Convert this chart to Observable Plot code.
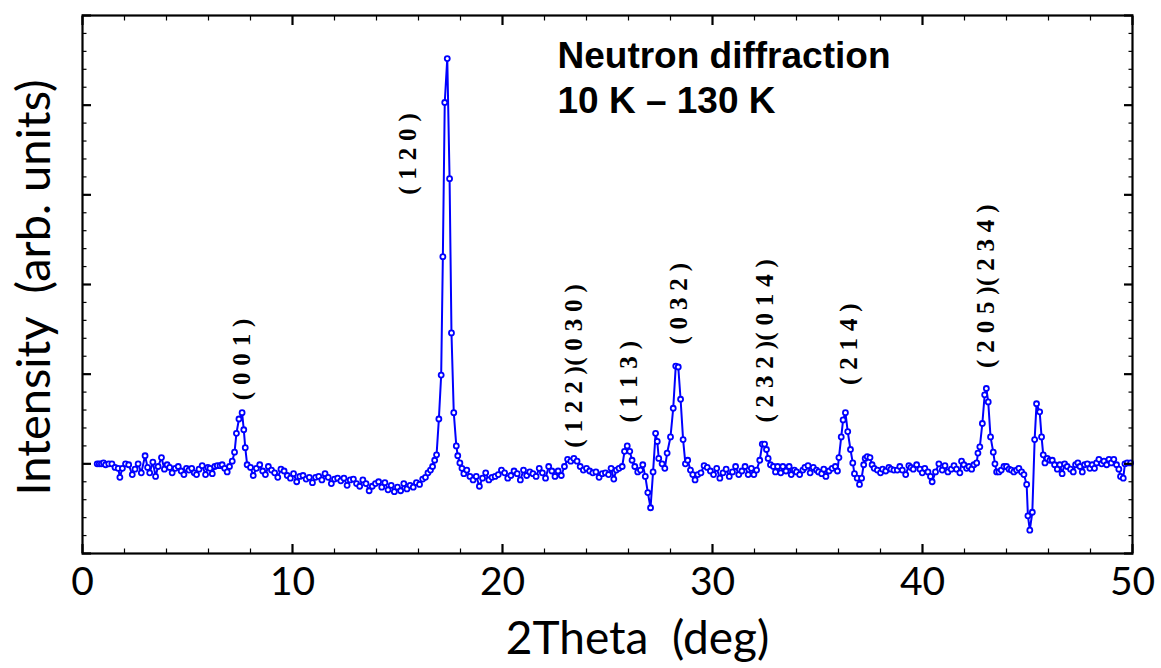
<!DOCTYPE html>
<html>
<head>
<meta charset="utf-8">
<script src="https://cdn.jsdelivr.net/npm/d3@7"></script>
<script src="https://cdn.jsdelivr.net/npm/@observablehq/plot@0.6"></script>
<style>
  html, body { margin: 0; padding: 0; background: #fff; }
</style>
</head>
<body>
<div id="chart"></div>
<script>
// 2Theta (deg) of each measured point
const twoTheta = [
  0.70,0.80,0.90,1.00,1.10,1.25,1.40,1.55,1.70,1.78,1.90,2.05,2.20,2.37,2.50,2.65,2.80,2.98,3.10,3.20,
  3.35,3.48,3.60,3.76,3.90,4.03,4.15,4.27,4.42,4.56,4.70,4.83,4.95,5.07,5.20,5.32,5.43,5.55,5.70,5.86,
  5.97,6.07,6.18,6.30,6.42,6.55,6.65,6.77,6.89,7.00,7.13,7.24,7.33,7.45,7.60,7.68,7.75,7.84,8.00,8.13,
  8.28,8.44,8.58,8.71,8.85,9.00,9.15,9.30,9.45,9.60,9.75,9.90,10.05,10.20,10.35,10.50,10.65,10.80,10.95,11.10,
  11.25,11.40,11.55,11.70,11.85,12.00,12.15,12.30,12.45,12.60,12.75,12.90,13.05,13.20,13.35,13.50,13.65,13.80,13.95,14.10,
  14.25,14.40,14.55,14.70,14.85,15.00,15.15,15.30,15.45,15.60,15.75,15.90,16.05,16.20,16.33,16.45,16.57,16.67,16.77,16.86,
  16.97,17.08,17.16,17.25,17.37,17.48,17.57,17.68,17.80,17.87,17.97,18.07,18.16,18.30,18.45,18.60,18.75,18.90,19.05,19.20,
  19.35,19.50,19.65,19.80,19.95,20.10,20.25,20.40,20.55,20.70,20.85,21.00,21.15,21.30,21.45,21.60,21.75,21.90,22.05,22.20,
  22.35,22.50,22.65,22.80,22.95,23.10,23.25,23.40,23.55,23.70,23.85,24.00,24.15,24.30,24.45,24.60,24.75,24.90,25.05,25.17,
  25.30,25.42,25.55,25.70,25.81,25.94,26.06,26.17,26.30,26.44,26.57,26.68,26.80,26.92,27.05,27.17,27.29,27.37,27.44,27.60,
  27.73,27.84,28.00,28.13,28.25,28.37,28.48,28.60,28.71,28.82,28.95,29.06,29.17,29.30,29.45,29.60,29.75,29.90,30.05,30.20,
  30.35,30.50,30.65,30.80,30.95,31.10,31.25,31.40,31.55,31.70,31.85,31.97,32.10,32.25,32.37,32.48,32.57,32.65,32.76,32.90,
  33.00,33.10,33.25,33.35,33.50,33.65,33.75,33.90,34.00,34.15,34.30,34.40,34.55,34.65,34.80,34.95,35.05,35.20,35.30,35.40,
  35.55,35.70,35.85,35.95,36.02,36.13,36.22,36.33,36.44,36.57,36.68,36.76,36.89,37.00,37.10,37.20,37.27,37.37,37.50,37.60,
  37.70,37.85,38.00,38.10,38.25,38.40,38.50,38.64,38.80,38.92,39.04,39.20,39.35,39.45,39.56,39.72,39.88,39.99,40.11,40.26,
  40.38,40.46,40.62,40.78,40.94,41.07,41.21,41.37,41.50,41.62,41.78,41.86,41.97,42.10,42.21,42.34,42.45,42.58,42.64,42.73,
  42.85,42.96,43.04,43.13,43.24,43.37,43.45,43.53,43.64,43.75,43.88,44.00,44.12,44.23,44.35,44.48,44.59,44.72,44.83,44.96,
  45.02,45.11,45.23,45.34,45.43,45.58,45.67,45.75,45.83,45.94,46.07,46.18,46.29,46.42,46.54,46.65,46.77,46.89,47.05,47.18,
  47.29,47.40,47.50,47.61,47.72,47.85,47.97,48.08,48.19,48.29,48.40,48.53,48.64,48.77,48.88,48.99,49.11,49.24,49.35,49.43,
  49.56,49.64,49.75,49.91
];
// Intensity difference 10 K - 130 K (arb. units)
const intensity = [
  0.00,0.00,0.00,0.01,-0.01,0.00,0.00,-0.04,-0.05,-0.15,-0.05,0.00,-0.01,-0.12,-0.06,0.00,-0.10,0.09,-0.04,-0.10,
  0.02,-0.14,-0.03,0.07,-0.06,-0.01,-0.04,-0.10,-0.05,-0.03,-0.08,-0.12,-0.05,-0.07,-0.05,-0.10,-0.12,-0.06,-0.02,-0.12,
  -0.04,-0.05,-0.11,-0.03,-0.02,-0.02,-0.01,-0.05,-0.09,-0.03,0.03,0.13,0.34,0.50,0.57,0.38,0.18,-0.01,-0.04,-0.13,
  -0.05,-0.01,-0.08,-0.12,-0.03,-0.07,-0.10,-0.15,-0.06,-0.08,-0.13,-0.16,-0.11,-0.20,-0.14,-0.13,-0.17,-0.15,-0.21,-0.15,
  -0.14,-0.18,-0.11,-0.15,-0.22,-0.17,-0.16,-0.19,-0.16,-0.24,-0.18,-0.17,-0.22,-0.25,-0.18,-0.22,-0.30,-0.25,-0.22,-0.20,
  -0.26,-0.21,-0.29,-0.24,-0.31,-0.26,-0.30,-0.22,-0.28,-0.24,-0.26,-0.21,-0.23,-0.17,-0.15,-0.10,-0.07,-0.03,0.04,0.10,
  0.50,0.99,2.31,4.03,4.52,3.18,1.46,0.57,0.20,0.09,0.01,-0.05,-0.11,-0.07,-0.14,-0.18,-0.14,-0.25,-0.16,-0.10,
  -0.18,-0.15,-0.14,-0.12,-0.07,-0.10,-0.16,-0.13,-0.08,-0.11,-0.18,-0.07,-0.13,-0.09,-0.11,-0.14,-0.05,-0.10,-0.16,-0.03,
  -0.08,-0.14,-0.08,-0.13,-0.03,0.05,0.03,0.06,0.03,-0.03,-0.07,-0.05,-0.08,-0.10,-0.09,-0.15,-0.11,-0.10,-0.12,-0.05,
  -0.17,-0.07,-0.05,-0.03,0.14,0.20,0.14,0.04,-0.03,-0.09,-0.07,-0.01,-0.14,-0.32,-0.49,-0.09,0.34,0.25,0.06,0.00,
  -0.05,0.12,0.30,0.62,1.09,1.08,0.72,0.27,0.00,0.04,-0.07,-0.12,-0.18,-0.12,-0.10,-0.02,-0.04,-0.08,-0.12,-0.05,
  -0.16,-0.10,-0.06,-0.14,-0.09,-0.03,-0.12,-0.08,-0.03,-0.12,-0.05,-0.12,-0.07,0.04,0.22,0.22,0.16,0.06,-0.01,-0.03,
  -0.09,-0.03,-0.10,-0.03,-0.08,-0.03,-0.12,-0.07,-0.09,-0.12,-0.07,-0.04,-0.02,-0.10,-0.04,-0.07,-0.09,-0.11,-0.06,-0.14,
  -0.08,-0.05,-0.03,-0.08,0.07,0.30,0.49,0.57,0.36,0.16,0.01,-0.11,-0.16,-0.23,-0.16,-0.01,0.06,0.08,0.07,-0.01,
  -0.05,-0.07,-0.10,-0.06,-0.08,-0.04,-0.06,-0.07,-0.07,-0.03,-0.07,-0.12,-0.02,-0.04,-0.06,-0.01,-0.06,-0.10,-0.05,-0.09,
  -0.14,-0.20,-0.09,0.00,-0.07,-0.02,-0.09,-0.06,-0.02,-0.06,-0.10,0.03,-0.01,-0.05,-0.03,-0.06,-0.01,0.01,0.12,0.19,
  0.45,0.77,0.84,0.69,0.30,0.13,0.00,-0.09,-0.09,-0.07,-0.03,-0.03,-0.06,-0.07,-0.09,-0.07,-0.05,-0.09,-0.12,-0.23,
  -0.58,-0.74,-0.54,0.27,0.67,0.58,0.30,0.10,0.01,0.06,0.04,0.04,-0.01,-0.06,-0.01,-0.11,0.00,-0.03,-0.06,-0.09,
  -0.01,0.01,-0.03,-0.09,-0.01,0.00,-0.05,-0.01,-0.05,0.01,0.05,0.00,0.03,-0.01,0.05,0.01,0.05,-0.01,-0.06,-0.14,
  -0.16,0.00,0.01,0.01
];
// Miller-index peak labels
const peakLabels = ["( 0 0 1 )", "( 1 2 0 )", "( 1 2 2 )( 0 3 0 )", "( 1 1 3 )", "( 0 3 2 )", "( 2 3 2 )( 0 1 4 )", "( 2 1 4 )", "( 2 0 5 )( 2 3 4 )"];
const peakLabelX = [7.6, 15.5, 23.4, 26.0, 28.4, 32.5, 36.5, 43.0];
const peakLabelY = [0.71, 3.0, 0.18, 0.46, 1.33, 0.46, 0.88, 1.07];
// Axis ticks
const xMajorTicks = [0, 10, 20, 30, 40, 50];
const xMinorTicks = [2, 4, 6, 8, 12, 14, 16, 18, 22, 24, 26, 28, 32, 34, 36, 38, 42, 44, 46, 48];
const yMajorTicks = [-1, 0, 1, 2, 3, 4, 5];
const yMinorTicks = [-0.8,-0.6,-0.4,-0.2,0.2,0.4,0.6,0.8,1.2,1.4,1.6,1.8,2.2,2.4,2.6,2.8,3.2,3.4,3.6,3.8,4.2,4.4,4.6,4.8];
const titleText = "Neutron diffraction\n10 K \u2013 130 K";
const xLabel = "2Theta\u00a0 (deg)";
const yLabel = "Intensity\u00a0 (arb. units)";

const points = twoTheta.map((x, i) => ({x, y: intensity[i]}));
const labels = peakLabels.map((t, i) => ({t, x: peakLabelX[i], y: peakLabelY[i]}));
const blank = () => "";

const chart = Plot.plot({
  width: 1161,
  height: 668,
  marginLeft: 82,
  marginRight: 29,
  marginTop: 15,
  marginBottom: 115,
  style: {fontFamily: "Lato", background: "white", color: "black", overflow: "visible"},
  x: {domain: [0, 50], axis: null},
  y: {domain: [-1, 5], axis: null},
  marks: [
    Plot.line(points, {x: "x", y: "y", stroke: "#0000ff", strokeWidth: 2}),
    Plot.dot(points, {x: "x", y: "y", r: 2.5, stroke: "#0000ff", fill: "white", strokeWidth: 1.8}),
    Plot.text(labels, {x: "x", y: "y", text: "t", rotate: -90, textAnchor: "start", lineAnchor: "middle",
      fontFamily: "Liberation Serif", fontWeight: "bold", fontSize: 25, fill: "black"}),
    Plot.text([titleText], {text: d => d, frameAnchor: "top-left", dx: 475, dy: 20, textAnchor: "start", lineAnchor: "top",
      fontFamily: "Liberation Sans", fontWeight: "bold", fontSize: 37, lineHeight: 1.22, fill: "black"}),
    // ticks (inward) on all four sides
    Plot.axisX({ticks: xMajorTicks, anchor: "bottom", tickSize: -9, strokeWidth: 2.2, tickFormat: blank, label: null}),
    Plot.axisX({ticks: xMinorTicks, anchor: "bottom", tickSize: -4.5, strokeWidth: 1.2, tickFormat: blank, label: null}),
    Plot.axisX({ticks: xMajorTicks, anchor: "top", tickSize: -9, strokeWidth: 2.2, tickFormat: blank, label: null}),
    Plot.axisX({ticks: xMinorTicks, anchor: "top", tickSize: -4.5, strokeWidth: 1.2, tickFormat: blank, label: null}),
    Plot.axisY({ticks: yMajorTicks, anchor: "left", tickSize: -9, strokeWidth: 2.2, tickFormat: blank, label: null}),
    Plot.axisY({ticks: yMinorTicks, anchor: "left", tickSize: -4.5, strokeWidth: 1.2, tickFormat: blank, label: null}),
    Plot.axisY({ticks: yMajorTicks, anchor: "right", tickSize: -9, strokeWidth: 2.2, tickFormat: blank, label: null}),
    Plot.axisY({ticks: yMinorTicks, anchor: "right", tickSize: -4.5, strokeWidth: 1.2, tickFormat: blank, label: null}),
    // x tick labels
    Plot.axisX({ticks: xMajorTicks, anchor: "bottom", tickSize: 0, tickPadding: 14, fontSize: 39, fontFamily: "Lato", label: null}),
    // axis titles
    Plot.text([xLabel], {text: d => d, frameAnchor: "bottom", textAnchor: "middle", dx: 30, dy: 86, lineAnchor: "middle", fontSize: 46, fontFamily: "Lato", fill: "black"}),
    Plot.text([yLabel], {text: d => d, frameAnchor: "left", textAnchor: "middle", rotate: -90, dx: -48, dy: 3, lineAnchor: "middle", fontSize: 47, fontFamily: "Lato", fill: "black"}),
    Plot.frame({stroke: "black", strokeWidth: 2.2})
  ]
});

// slight letter spacing for the Miller-index labels
chart.querySelectorAll("text").forEach(t => {
  if (peakLabels.includes(t.textContent)) t.style.letterSpacing = "0.3px";
});
document.getElementById("chart").appendChild(chart);
</script>
</body>
</html>
